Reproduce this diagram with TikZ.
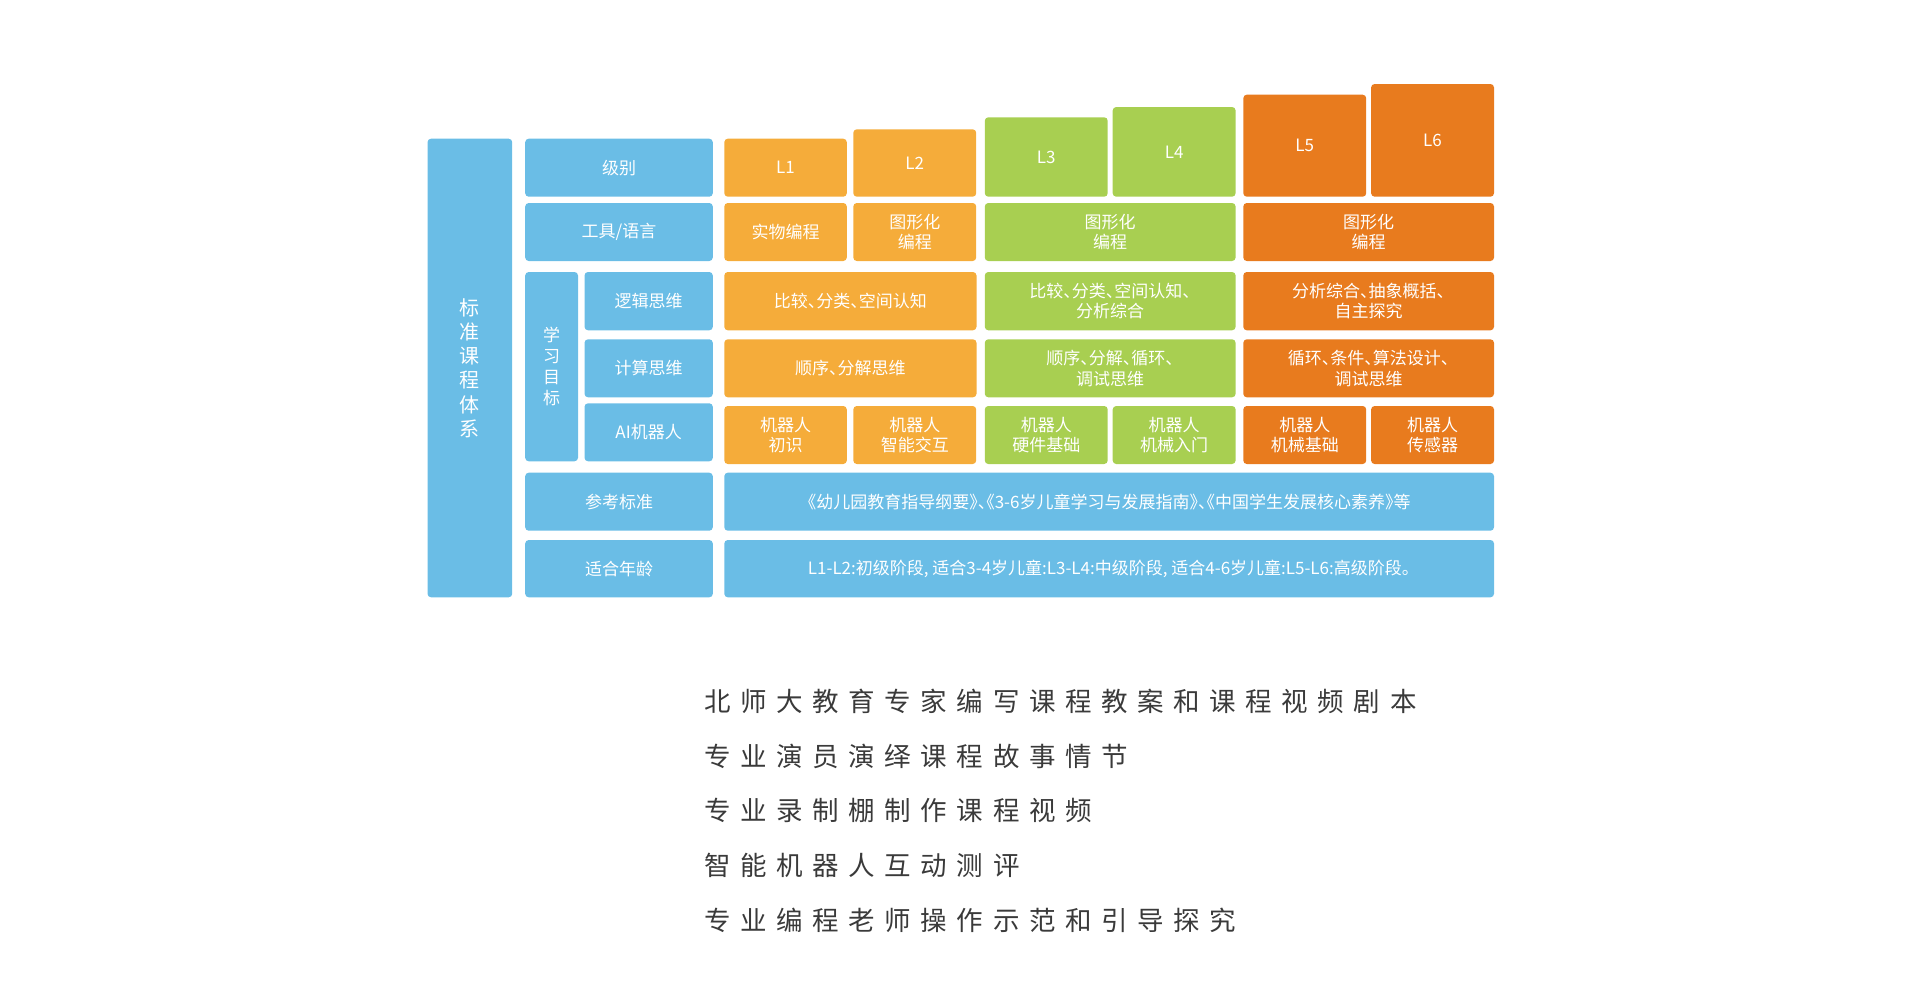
\documentclass[tikz,border=0pt]{standalone}
\usepackage{fontspec}
\setmainfont{Noto Sans CJK SC}[RawFeature=+halt]
\newfontfamily\plainfont{Noto Sans CJK SC}
\definecolor{cblue}{HTML}{6ABDE6}
\definecolor{lorange}{HTML}{F5AC3A}
\definecolor{cgreen}{HTML}{A8CF51}
\definecolor{dorange}{HTML}{E87B1E}
\definecolor{textgray}{HTML}{3A3A3A}
\newcommand\drawcell[7]{%
  \pgfmathsetmacro\cellw{#4-#2}\pgfmathsetmacro\cellh{#5-#3}%
  \pgfmathsetmacro\cellx{(#2+#4)/2}\pgfmathsetmacro\celly{(#3+#5)/2}%
  \node[box,#6,minimum width=\cellw pt,minimum height=\cellh pt] (#1) at (\cellx,\celly) {#7};}
\newdimen\spreadpitch
\makeatletter
\newcommand\spreadchars[2]{\spreadpitch=#1pt\relax\spread@aux#2\relax}
\def\spread@aux#1{\ifx\relax#1\else\hbox to\spreadpitch{#1\hss}\expandafter\spread@aux\fi}
\makeatother
\begin{document}
\begin{tikzpicture}[x=1pt,y=-1pt,
  box/.style={rounded corners=3.5pt,inner sep=0pt,outer sep=0pt,text=white,align=center,
    font=\fontsize{17}{20.5}\selectfont,anchor=center},
  bl/.style={fill=cblue},lo/.style={fill=lorange},gr/.style={fill=cgreen},do/.style={fill=dorange},
  line/.style={anchor=west,inner sep=0pt,text=textgray,font=\plainfont\fontsize{26.5}{30}\selectfont}]
\useasboundingbox (0,0) rectangle (1920,1004);
% left labels
\drawcell{sys}{427.5}{138.7}{512.2}{597.3}{bl,font=\fontsize{20}{24.2}\selectfont}{标\\准\\课\\程\\体\\系}
\drawcell{lvl}{525.2}{138.7}{712.8}{196.7}{bl}{级别}
\drawcell{tool}{525.2}{203}{712.8}{261}{bl}{工具/语言}
\drawcell{goal}{525.2}{272}{578}{461.3}{bl,font=\fontsize{17}{21}\selectfont}{学\\习\\目\\标}
\drawcell{logic}{584.5}{272}{712.8}{330.3}{bl}{逻辑思维}
\drawcell{comp}{584.5}{339.3}{712.8}{397.3}{bl}{计算思维}
\drawcell{ai}{584.5}{403.3}{712.8}{461.3}{bl}{AI机器人}
\drawcell{ref}{525.2}{472.7}{712.8}{530.7}{bl}{参考标准}
\drawcell{age}{525.2}{540}{712.8}{597.3}{bl}{适合年龄}
% levels
\drawcell{l1}{724.3}{138.7}{846.8}{196.7}{lo}{L1}
\drawcell{l2}{853.3}{129.3}{976.2}{196.7}{lo}{L2}
\drawcell{l3}{984.8}{117.3}{1107.7}{196.7}{gr}{L3}
\drawcell{l4}{1112.7}{107}{1235.6}{196.7}{gr}{L4}
\drawcell{l5}{1243.3}{94.7}{1366.2}{196.7}{do}{L5}
\drawcell{l6}{1371.1}{84}{1494}{196.7}{do}{L6}
% tools
\drawcell{t1}{724.3}{203}{846.8}{261}{lo}{实物编程}
\drawcell{t2}{853.3}{203}{976.2}{261}{lo}{图形化\\编程}
\drawcell{t34}{984.8}{203}{1235.6}{261}{gr}{图形化\\编程}
\drawcell{t56}{1243.3}{203}{1494}{261}{do}{图形化\\编程}
% logic
\drawcell{g12}{724.3}{272}{976.5}{330.3}{lo}{比较、分类、空间认知}
\drawcell{g34}{984.8}{272}{1235.6}{330.3}{gr}{比较、分类、空间认知、\\分析综合}
\drawcell{g56}{1243.3}{272}{1494}{330.3}{do}{分析综合、抽象概括、\\自主探究}
% computation
\drawcell{c12}{724.3}{339.3}{976.5}{397.3}{lo}{顺序、分解思维}
\drawcell{c34}{984.8}{339.3}{1235.6}{397.3}{gr}{顺序、分解、循环、\\调试思维}
\drawcell{c56}{1243.3}{339.3}{1494}{397.3}{do}{循环、条件、算法设计、\\调试思维}
% robots
\drawcell{r1}{724.3}{406}{846.8}{464}{lo}{机器人\\初识}
\drawcell{r2}{853.3}{406}{976.2}{464}{lo}{机器人\\智能交互}
\drawcell{r3}{984.8}{406}{1107.7}{464}{gr}{机器人\\硬件基础}
\drawcell{r4}{1112.7}{406}{1235.6}{464}{gr}{机器人\\机械入门}
\drawcell{r5}{1243.3}{406}{1366.2}{464}{do}{机器人\\机械基础}
\drawcell{r6}{1371.1}{406}{1494}{464}{do}{机器人\\传感器}
% reference & age
\drawcell{refc}{724.3}{472.7}{1494}{530.7}{bl}{《幼儿园教育指导纲要》、《3-6岁儿童学习与发展指南》、《中国学生发展核心素养》等}
\drawcell{agec}{724.3}{540}{1494}{597.3}{bl}{L1-L2:初级阶段, 适合3-4岁儿童:L3-L4:中级阶段, 适合4-6岁儿童:L5-L6:高级阶段。}
% bottom lines
\node[line] (s1) at (704,701.5) {\spreadchars{36.1}{北师大教育专家编写课程教案和课程视频剧本}};
\node[line] (s2) at (704,756) {\spreadchars{36.1}{专业演员演绎课程故事情节}};
\node[line] (s3) at (704,810.7) {\spreadchars{36.1}{专业录制棚制作课程视频}};
\node[line] (s4) at (704,865.3) {\spreadchars{36.1}{智能机器人互动测评}};
\node[line] (s5) at (704,920) {\spreadchars{36.1}{专业编程老师操作示范和引导探究}};
\end{tikzpicture}
\end{document}
